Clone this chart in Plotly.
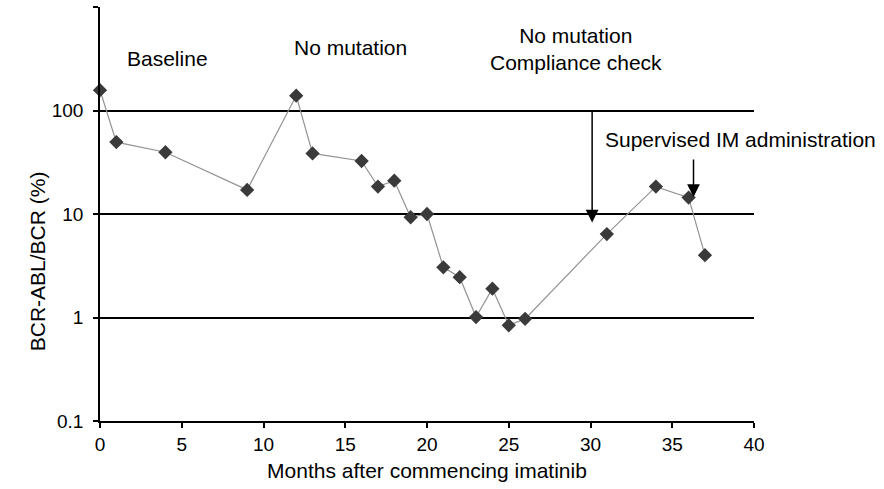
import math
import plotly.graph_objects as go

# Data
months = [0, 1, 4, 9, 12, 13, 16, 17, 18, 19, 20, 21, 22, 23, 24, 25, 26, 31, 34, 36, 37]
ratio = [157, 49.5, 39.5, 17.1, 139, 38.5, 32.5, 18.4, 21, 9.3, 10.0, 3.05, 2.45, 1.01,
         1.9, 0.84, 0.97, 6.4, 18.4, 14.4, 4.0]

x_ticks = [0, 5, 10, 15, 20, 25, 30, 35, 40]
y_ticks = [0.1, 1, 10, 100, 1000]
y_tick_text = ["0.1", "1", "10", "100", ""]

# text labels: (text, month, value)
labels = [
    ("Baseline", 4.1, 316),
    ("No mutation", 15.35, 407),
    ("No mutation<br>Compliance check", 29.1, 395),
    ("Supervised IM administration", 39.2, 53),
]
# arrows: (month, start value, tip value)
arrows = [
    (30.1, 100, 8.3),
    (36.3, 34.7, 14.6),
]

FONT = "Liberation Sans, Arial, Helvetica, sans-serif"

fig = go.Figure()
fig.add_trace(go.Scatter(
    x=months, y=ratio, mode="lines+markers",
    line=dict(color="#939393", width=1.2),
    marker=dict(symbol="diamond", size=11, color="#3a3a3a"),
    cliponaxis=False, showlegend=False,
))

for text, mx, val in labels:
    fig.add_annotation(x=mx, y=math.log10(val), xref="x", yref="y", text=text,
                       showarrow=False, font=dict(family=FONT, size=21, color="black"),
                       align="center")

for mx, y0, y1 in arrows:
    fig.add_annotation(x=mx, y=math.log10(y1), ax=mx, ay=math.log10(y0),
                       xref="x", yref="y", axref="x", ayref="y", text="",
                       showarrow=True, arrowhead=2, arrowsize=1.7, arrowwidth=1.5,
                       arrowcolor="black")

# y-axis title (placed like the reference, below the axis centre)
fig.add_annotation(x=-0.116, y=0.385, xref="paper", yref="paper",
                   text="BCR-ABL/BCR (%)", textangle=-90, showarrow=False,
                   font=dict(family=FONT, size=21, color="black"))

fig.update_layout(
    width=884, height=489,
    margin=dict(l=100, r=130, t=7, b=68),
    paper_bgcolor="white", plot_bgcolor="white",
    font=dict(family=FONT, size=21, color="black"),
    xaxis=dict(range=[0, 40], tickvals=x_ticks, showgrid=False, zeroline=False,
               showline=True, linecolor="black", linewidth=1.5,
               ticks="outside", ticklen=5, tickwidth=1.5, tickcolor="black",
               title=dict(text="Months after commencing imatinib", standoff=10,
                          font=dict(size=21)),
               tickfont=dict(size=19)),
    yaxis=dict(type="log", range=[-1, 3], tickvals=y_ticks, ticktext=y_tick_text,
               showgrid=True, gridcolor="black", gridwidth=1.5, zeroline=False,
               showline=True, linecolor="black", linewidth=1.5,
               ticks="outside", ticklen=5, tickwidth=1.5, tickcolor="black",
               ticklabelstandoff=6,
               tickfont=dict(size=19)),
)

fig.write_html("out.html")
